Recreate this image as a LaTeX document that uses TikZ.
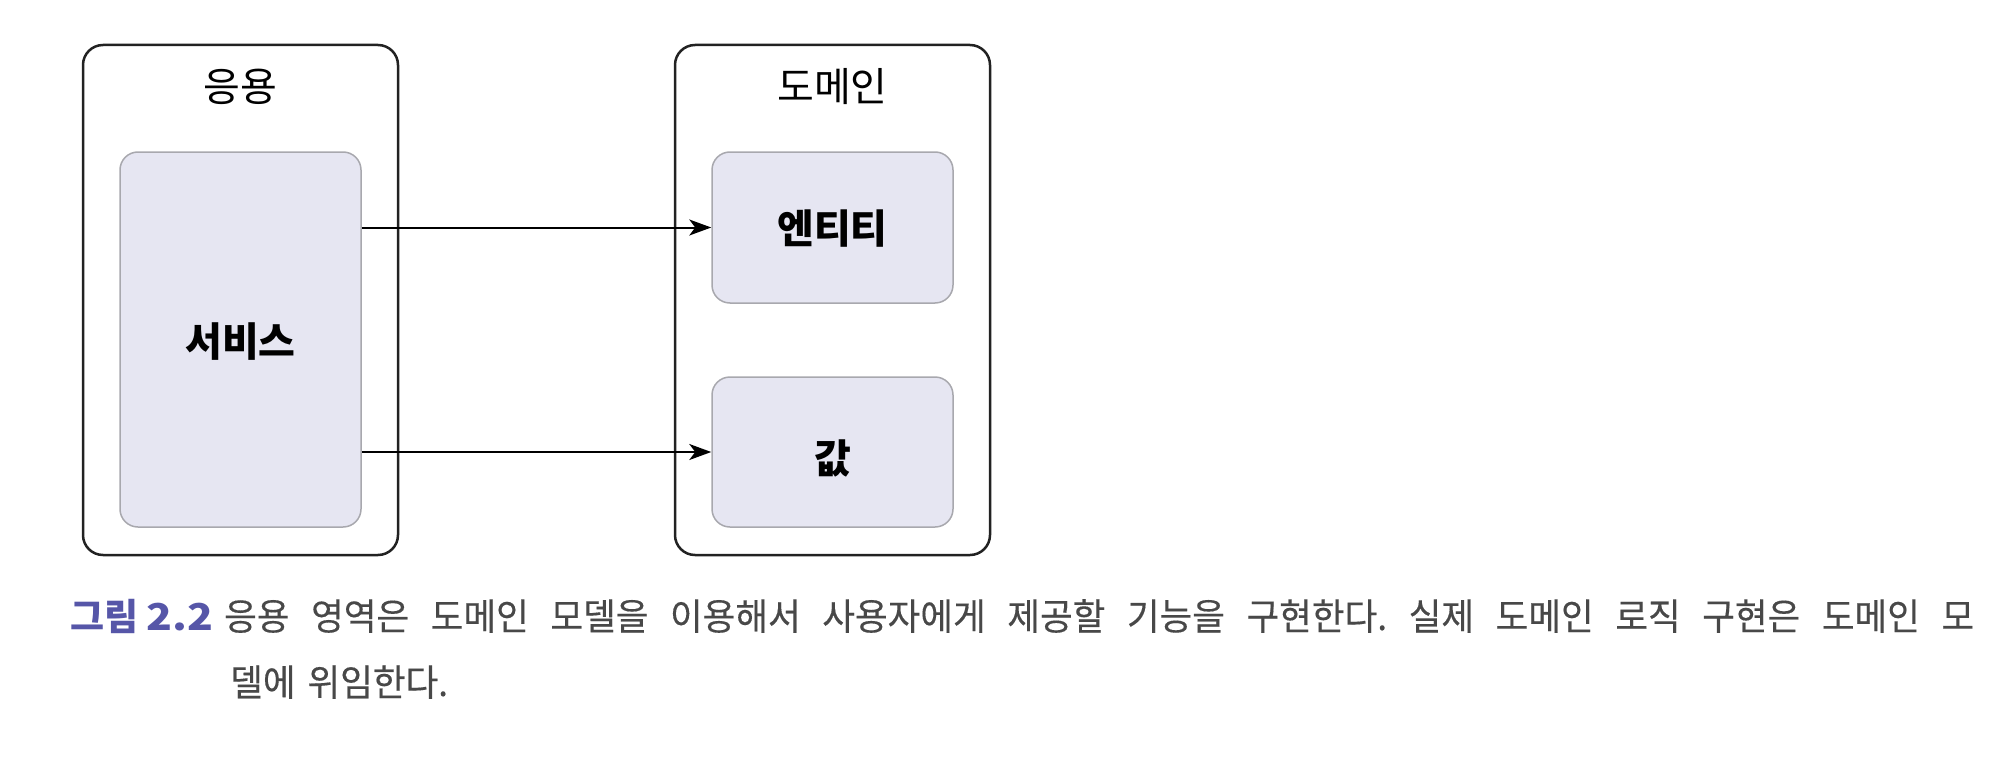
\documentclass[tikz,border=0pt]{standalone}
\usepackage{fontspec}
\usepackage{graphicx}
\newfontfamily\kr{Noto Sans CJK KR}
\newfontfamily\krcap[FakeStretch=0.96,FakeBold=0.3]{Noto Sans CJK KR}
\usetikzlibrary{arrows.meta}
\definecolor{innerfill}{HTML}{E6E6F2}
\definecolor{innerdraw}{HTML}{A8A8AE}
\definecolor{outerdraw}{HTML}{222222}
\definecolor{capblue}{HTML}{5656A8}
\definecolor{capgray}{HTML}{484848}
\frenchspacing
\tikzset{
  outerbox/.style={draw=outerdraw, line width=2.5pt, rounded corners=20pt, fill=white, inner sep=0pt},
  innerbox/.style={draw=innerdraw, line width=1.5pt, rounded corners=18pt, fill=innerfill, inner sep=0pt},
  title/.style={anchor=base, font=\kr\fontsize{40}{48}\selectfont, text=black, inner sep=0pt},
  label/.style={anchor=base, font=\kr\bfseries\fontsize{40}{48}\selectfont, text=black, inner sep=0pt},
  arr/.style={draw=black, line width=2pt, -{Stealth[length=22pt,width=16pt,inset=6pt]}},
  capnum/.style={anchor=base west, font=\kr\bfseries\fontsize{37}{40}\selectfont, text=capblue, inner sep=0pt},
  captext/.style={anchor=base west, font=\krcap\fontsize{37}{40}\selectfont, text=capgray, inner sep=0pt}
}
\begin{document}
\begin{tikzpicture}[x=1pt,y=-1pt]
\useasboundingbox (0,0) rectangle (2000,760);
% containers
\node[outerbox, minimum width=315pt, minimum height=510pt] (app) at (240.5,300) {};
\node[outerbox, minimum width=315pt, minimum height=510pt] (dom) at (832.5,300) {};
% inner boxes
\node[innerbox, minimum width=241pt, minimum height=375pt] (svc) at (240.5,339.5) {};
\node[innerbox, minimum width=241pt, minimum height=151pt] (ent) at (832.5,227.5) {};
\node[innerbox, minimum width=241pt, minimum height=150pt] (val) at (832.5,452) {};
% labels
\node[title] (apptitle) at (240.5,101.5) {응용};
\node[title] (domtitle) at (832.5,101.5) {도메인};
\node[label] (svclabel) at (240.5,356) {서비스};
\node[label] (entlabel) at (832.5,243) {엔티티};
\node[label] (vallabel) at (832.5,473) {값};
% connectors
\draw[arr] (svc.east |- ent.west) -- (ent.west);
\draw[arr] (svc.east |- val.west) -- (val.west);
% caption
\node[capnum] (capnum) at (70,630) {그림 \scalebox{1.15}[1]{2.2}};
\node[captext] (cap1) at (224,630) {\makebox[1750pt][s]{응용 영역은 도메인 모델을 이용해서 사용자에게 제공할 기능을 구현한다. 실제 도메인 로직 구현은 도메인 모}};
\node[captext] (cap2) at (230,696) {델에\hspace{4pt} 위임한다.};
\end{tikzpicture}
\end{document}
